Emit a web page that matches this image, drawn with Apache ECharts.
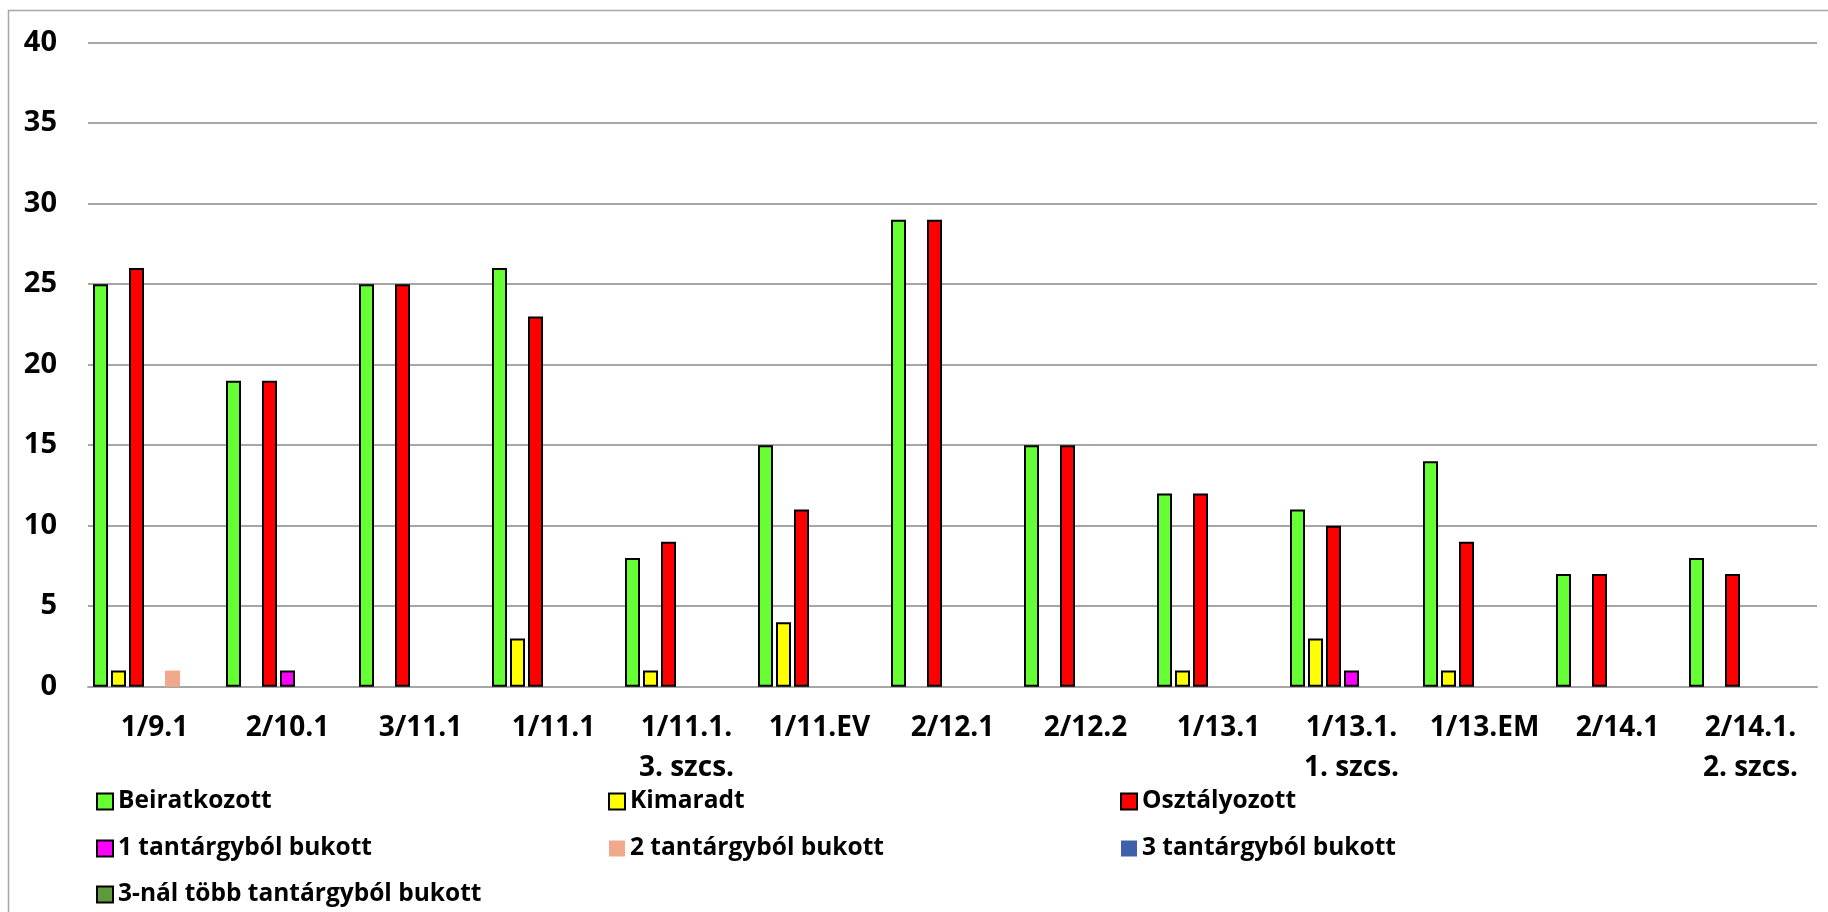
<!DOCTYPE html>
<html>
<head>
<meta charset="utf-8">
<script src="https://cdn.jsdelivr.net/npm/echarts@6/dist/echarts.min.js"></script>
<style>
  html, body { margin: 0; padding: 0; background: #fff; }
  #chart { width: 1828px; height: 912px; }
</style>
</head>
<body>
<div id="chart"></div>
<script>
// kategóriák (osztályok)
const categories = [
  "1/9.1", "2/10.1", "3/11.1", "1/11.1", "1/11.1.\n3. szcs.", "1/11.EV",
  "2/12.1", "2/12.2", "1/13.1", "1/13.1.\n1. szcs.", "1/13.EM", "2/14.1", "2/14.1.\n2. szcs."
];
// adatsorok
const beiratkozott = [25, 19, 25, 26, 8, 15, 29, 15, 12, 11, 14, 7, 8];
const kimaradt = [1, null, null, 3, 1, 4, null, null, 1, 3, 1, null, null];
const osztalyozott = [26, 19, 25, 23, 9, 11, 29, 15, 12, 10, 9, 7, 7];
const bukott1 = [null, 1, null, null, null, null, null, null, null, 1, null, null, null];
const bukott2 = [1, null, null, null, null, null, null, null, null, null, null, null, null];
const bukott3 = [null, null, null, null, null, null, null, null, null, null, null, null, null];
const bukottTobb = [null, null, null, null, null, null, null, null, null, null, null, null, null];
const yTicks = [0, 5, 10, 15, 20, 25, 30, 35, 40];

const fontFamily = "'Open Sans', 'Liberation Sans', sans-serif";

// egy oszlop-sorozat összerakása
function bar(name, data, color, border) {
  return {
    name: name,
    type: "bar",
    data: data,
    barWidth: 15,
    barGap: "20%",
    itemStyle: {
      color: color,
      borderColor: border ? "#000" : color,
      borderWidth: border ? 2 : 0,
    },
  };
}

// közös legend beállítás (oszloponként egy legend)
function legend(left, top, names) {
  return {
    orient: "vertical",
    left: left,
    top: top,
    padding: 0,
    itemWidth: 16,
    itemHeight: 16,
    itemGap: 22,
    icon: "rect",
    data: names,
    textStyle: {
      fontFamily: fontFamily,
      fontWeight: "bold",
      fontSize: 24.5,
      lineHeight: 24,
      color: "#000",
      padding: [0, 0, 0, 0],
    },
  };
}

const mychart = echarts.init(document.getElementById("chart"));
mychart.setOption({
  animation: false,
  backgroundColor: "#fff",
  graphic: [
    {
      // külső keret (csak bal és felső él látszik)
      type: "rect",
      shape: { x: 8.5, y: 10.5, width: 1900, height: 1000 },
      style: { fill: "none", stroke: "#a6a6a6", lineWidth: 1.5 },
      silent: true,
    },
  ],
  grid: {
    left: 88,
    right: 11,
    top: 42.7,
    bottom: 225.3,
  },
  legend: [
    legend(96, 789, ["Beiratkozott", "1 tantárgyból bukott"]),
    legend(96, 882, ["3-nál több tantárgyból bukott"]),
    legend(608, 789, ["Kimaradt", "2 tantárgyból bukott"]),
    legend(1120, 789, ["Osztályozott", "3 tantárgyból bukott"]),
  ],
  xAxis: {
    type: "category",
    data: categories,
    axisTick: { show: false },
    axisLine: { lineStyle: { color: "#a6a6a6", width: 2 } },
    axisLabel: {
      interval: 0,
      margin: 21,
      fontFamily: fontFamily,
      fontWeight: "bold",
      fontSize: 28,
      lineHeight: 40,
      color: "#000",
    },
  },
  yAxis: {
    type: "value",
    min: yTicks[0],
    max: yTicks[yTicks.length - 1],
    interval: 5,
    axisLine: { show: false },
    axisTick: { show: false },
    splitLine: { lineStyle: { color: "#a6a6a6", width: 2 } },
    axisLabel: {
      margin: 31,
      fontFamily: fontFamily,
      fontWeight: "bold",
      fontSize: 29,
      color: "#000",
    },
  },
  series: [
    bar("Beiratkozott", beiratkozott, "#66ff33", true),
    bar("Kimaradt", kimaradt, "#ffff00", true),
    bar("Osztályozott", osztalyozott, "#ff0000", true),
    bar("1 tantárgyból bukott", bukott1, "#ff00ff", true),
    bar("2 tantárgyból bukott", bukott2, "#f2a88a", false),
    bar("3 tantárgyból bukott", bukott3, "#3f5faa", false),
    bar("3-nál több tantárgyból bukott", bukottTobb, "#5e9a3c", true),
  ],
});
</script>
</body>
</html>
